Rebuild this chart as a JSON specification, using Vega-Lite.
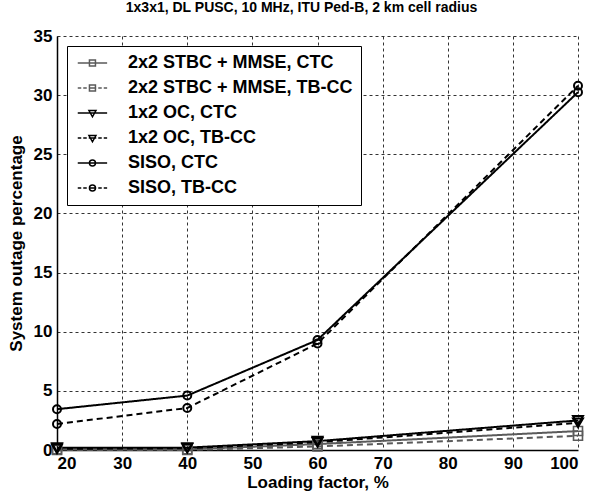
{
  "$schema": "https://vega.github.io/schema/vega-lite/v6.json",
  "width": 521,
  "height": 414,
  "autosize": "none",
  "padding": {"left": 57, "top": 36, "right": 14, "bottom": 45},
  "background": "white",
  "title": {
    "text": "1x3x1, DL PUSC, 10 MHz, ITU Ped-B, 2 km cell radius",
    "font": "Liberation Sans",
    "fontSize": 14,
    "fontWeight": "bold",
    "color": "black",
    "offset": 12,
    "dx": -16
  },
  "config": {
    "view": {"stroke": null},
    "axis": {
      "labelFont": "Liberation Sans",
      "labelFontSize": 17,
      "labelFontWeight": "bold",
      "labelColor": "black",
      "titleFont": "Liberation Sans",
      "titleFontSize": 17,
      "titleFontWeight": "bold",
      "titleColor": "black",
      "ticks": false,
      "domainColor": "black",
      "domainWidth": 1.5,
      "grid": true,
      "gridColor": "#333333",
      "gridDash": [3, 3],
      "gridWidth": 1,
      "gridOpacity": 1
    }
  },
  "data": {
    "values": [
      {"series": "2x2 STBC + MMSE, CTC", "x": 20, "y": 0.05},
      {"series": "2x2 STBC + MMSE, CTC", "x": 40, "y": 0.05},
      {"series": "2x2 STBC + MMSE, CTC", "x": 60, "y": 0.5},
      {"series": "2x2 STBC + MMSE, CTC", "x": 100, "y": 1.6},
      {"series": "2x2 STBC + MMSE, TB-CC", "x": 20, "y": 0.0},
      {"series": "2x2 STBC + MMSE, TB-CC", "x": 40, "y": 0.0},
      {"series": "2x2 STBC + MMSE, TB-CC", "x": 60, "y": 0.3},
      {"series": "2x2 STBC + MMSE, TB-CC", "x": 100, "y": 1.2},
      {"series": "1x2 OC, CTC", "x": 20, "y": 0.2},
      {"series": "1x2 OC, CTC", "x": 40, "y": 0.2},
      {"series": "1x2 OC, CTC", "x": 60, "y": 0.75},
      {"series": "1x2 OC, CTC", "x": 100, "y": 2.5},
      {"series": "1x2 OC, TB-CC", "x": 20, "y": 0.1},
      {"series": "1x2 OC, TB-CC", "x": 40, "y": 0.15},
      {"series": "1x2 OC, TB-CC", "x": 60, "y": 0.65},
      {"series": "1x2 OC, TB-CC", "x": 100, "y": 2.3},
      {"series": "SISO, CTC", "x": 20, "y": 3.45},
      {"series": "SISO, CTC", "x": 40, "y": 4.6},
      {"series": "SISO, CTC", "x": 60, "y": 9.3},
      {"series": "SISO, CTC", "x": 100, "y": 30.25},
      {"series": "SISO, TB-CC", "x": 20, "y": 2.2},
      {"series": "SISO, TB-CC", "x": 40, "y": 3.55},
      {"series": "SISO, TB-CC", "x": 60, "y": 9.0},
      {"series": "SISO, TB-CC", "x": 100, "y": 30.8}
    ]
  },
  "encoding": {
    "x": {
      "field": "x",
      "type": "quantitative",
      "scale": {"domain": [20, 100], "nice": false, "zero": false},
      "axis": {"title": "Loading factor, %", "values": [20, 30, 40, 50, 60, 70, 80, 90, 100], "labelPadding": 5, "titlePadding": 3}
    },
    "y": {
      "field": "y",
      "type": "quantitative",
      "scale": {"domain": [0, 35], "nice": false},
      "axis": {"title": "System outage percentage", "values": [0, 5, 10, 15, 20, 25, 30, 35], "labelPadding": 5, "titlePadding": 8}
    }
  },
  "layer": [
    {
      "mark": {"type": "line"},
      "encoding": {
        "detail": {"field": "series", "type": "nominal"},
        "stroke": {
          "field": "series", "type": "nominal", "legend": null,
          "scale": {"range": ["#000000", "#000000", "#5a5a5a", "#5a5a5a", "#000000", "#000000"]}
        },
        "strokeDash": {
          "field": "series", "type": "nominal", "legend": null,
          "scale": {"range": [[1, 0], [6, 4], [1, 0], [6, 4], [1, 0], [6, 4]]}
        },
        "strokeWidth": {
          "field": "series", "type": "ordinal", "legend": null,
          "scale": {"range": [2, 2, 1.5, 1.5, 2, 2]}
        }
      }
    },
    {
      "transform": [{"filter": "indexof(datum.series, '2x2') == 0"}],
      "mark": {"type": "point", "shape": "square", "size": 81, "filled": false, "strokeWidth": 1.6, "opacity": 1},
      "encoding": {
        "stroke": {"field": "series", "type": "nominal", "legend": null}
      }
    },
    {
      "transform": [{"filter": "indexof(datum.series, '1x2') == 0"}],
      "mark": {"type": "point", "shape": "triangle-down", "size": 100, "filled": false, "strokeWidth": 2, "opacity": 1},
      "encoding": {
        "stroke": {"field": "series", "type": "nominal", "legend": null}
      }
    },
    {
      "transform": [{"filter": "indexof(datum.series, 'SISO') == 0"}],
      "mark": {"type": "point", "shape": "circle", "size": 64, "filled": false, "strokeWidth": 2, "opacity": 1},
      "encoding": {
        "stroke": {"field": "series", "type": "nominal", "legend": null}
      }
    },
    {
      "transform": [{"filter": "datum.x < 0"}],
      "mark": {"type": "point", "size": 256, "filled": false, "strokeWidth": 1.8, "opacity": 1},
      "encoding": {
        "color": {
          "field": "series", "type": "nominal",
          "scale": {
            "domain": ["2x2 STBC + MMSE, CTC", "2x2 STBC + MMSE, TB-CC", "1x2 OC, CTC", "1x2 OC, TB-CC", "SISO, CTC", "SISO, TB-CC"],
            "range": ["#5a5a5a", "#5a5a5a", "#000000", "#000000", "#000000", "#000000"]
          },
          "legend": {
            "title": null,
            "orient": "top-left",
            "offset": 10,
            "padding": 8,
            "strokeColor": "black",
            "fillColor": "white",
            "labelFont": "Liberation Sans",
            "labelFontSize": 18,
            "labelFontWeight": "bold",
            "labelColor": "black",
            "labelOffset": 35,
            "rowPadding": 7,
            "symbolOpacity": 1,
            "labelLimit": 400
          }
        },
        "shape": {
          "field": "series", "type": "nominal",
          "scale": {
            "domain": ["2x2 STBC + MMSE, CTC", "2x2 STBC + MMSE, TB-CC", "1x2 OC, CTC", "1x2 OC, TB-CC", "SISO, CTC", "SISO, TB-CC"],
            "range": [
              "M-1.25,0H4.625M1.09,-0.6H2.29V0.6H1.09Z",
              "M-1.25,0H-0.55M-0.15,0H0.55M0.95,0H2.45M2.85,0H3.55M3.95,0H4.625M1.09,-0.6H2.29V0.6H1.09Z",
              "M-1.25,0H4.625M0.99,-0.5H2.39L1.69,0.75Z",
              "M-1.25,0H-0.55M-0.15,0H0.55M0.95,0H2.45M2.85,0H3.55M3.95,0H4.625M0.99,-0.5H2.39L1.69,0.75Z",
              "M-1.25,0H4.625M2.29,0A0.6,0.6 0 1,1 1.09,0A0.6,0.6 0 1,1 2.29,0",
              "M-1.25,0H-0.55M-0.15,0H0.55M0.95,0H2.45M2.85,0H3.55M3.95,0H4.625M2.29,0A0.6,0.6 0 1,1 1.09,0A0.6,0.6 0 1,1 2.29,0"
            ]
          }
        }
      }
    }
  ]
}
